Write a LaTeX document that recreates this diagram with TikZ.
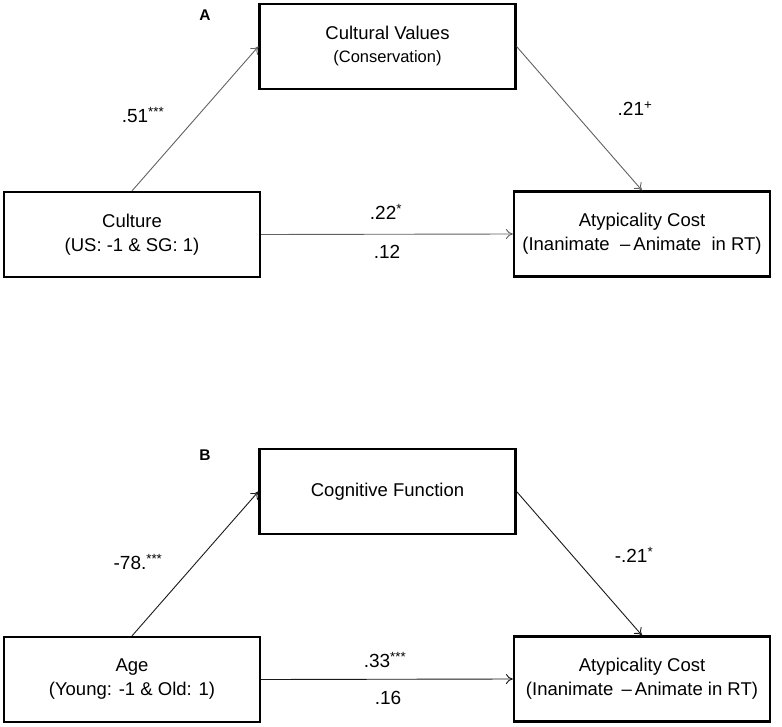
\documentclass[tikz,border=0pt]{standalone}
\usepackage{fontspec}
\setmainfont{Liberation Sans}
\usetikzlibrary{arrows.meta}
\begin{document}
\begin{tikzpicture}[x=1pt,y=-1pt,
  box/.style={draw, line width=2.2pt, minimum width=256pt, minimum height=85pt,
    inner sep=0pt, align=center, font=\fontsize{18.5}{24}\selectfont},
  arrA/.style={-{To[length=7pt,width=10pt]}, line width=0.9pt, draw=black!62},
  arrB/.style={-{To[length=7pt,width=10pt]}, line width=0.9pt, draw=black!90},
  coef/.style={font=\fontsize{19}{22}\selectfont, inner sep=0pt},
  panel/.style={font=\fontsize{15.5}{18}\selectfont\bfseries, inner sep=0pt},
  small/.style={font=\fontsize{16.5}{20}\selectfont}]
\useasboundingbox (0,0) rectangle (782,726);

% Panel A
\node[panel] (pA) at (205,15) {A};
\node[box] (cv) at (387.5,46.5) {Cultural Values\\[-1pt]{\fontsize{16.5}{20}\selectfont (Conservation)}};
\node[box] (cul) at (132,234.5) {Culture\\(US: -1 \& SG: 1)};
\node[box] (atA) at (642,234) {Atypicality Cost\\(Inanimate \ --\,Animate \ in RT)};
\draw[arrA] (cul.north) -- (cv.west);
\draw[arrA] (cv.east) -- (atA.north);
\draw[arrA] (cul.east) -- (atA.west);
\node[coef] (c51) at (143,115) {.51\textsuperscript{***}};
\node[coef] (c21) at (635,109) {.21\textsuperscript{+}};
\node[coef] (c22) at (386,212) {.22\textsuperscript{*}};
\node[coef] (c12) at (387,252) {.12};

% Panel B
\node[panel] (pB) at (205,455) {B};
\node[box] (cf) at (387.5,491.5) {Cognitive Function};
\node[box] (age) at (132,679.5) {Age\\(Young: -1 \& Old: 1)};
\node[box] (atB) at (642,679) {Atypicality Cost\\(Inanimate \,--\,Animate in RT)};
\draw[arrB] (age.north) -- (cf.west);
\draw[arrB] (cf.east) -- (atB.north);
\draw[arrB] (age.east) -- (atB.west);
\node[coef] (c78) at (138,562) {-78.\textsuperscript{***}};
\node[coef] (cm21) at (634,555) {-.21\textsuperscript{*}};
\node[coef] (c33) at (385,660) {.33\textsuperscript{***}};
\node[coef] (c16) at (388,698) {.16};
\end{tikzpicture}
\end{document}
